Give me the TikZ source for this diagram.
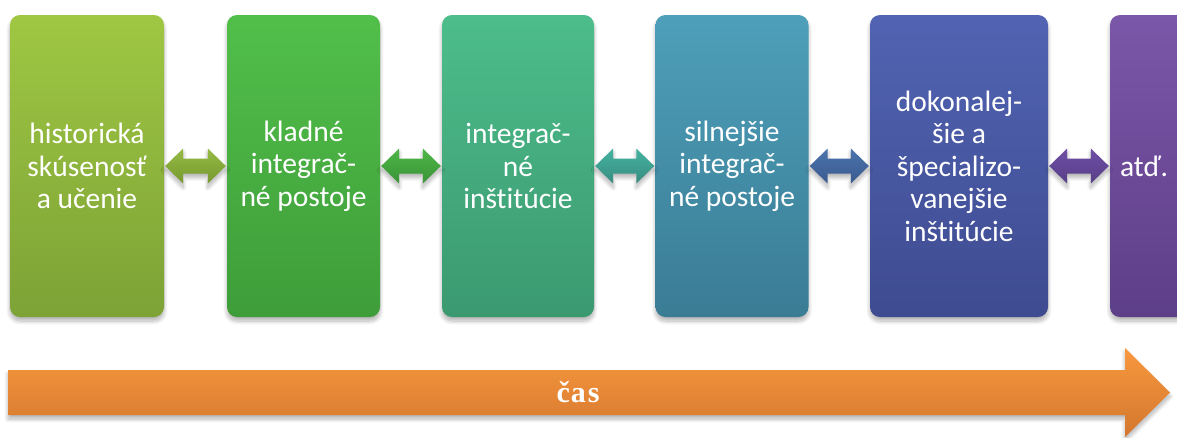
\documentclass[tikz,border=0pt]{standalone}
\usepackage{fontspec}
\setmainfont{Carlito}[Ligatures=NoCommon]
\newfontfamily\serifbold{Liberation Serif}
\usetikzlibrary{calc,shadows.blur}
\definecolor{bAt}{HTML}{9FC743}\definecolor{bAb}{HTML}{7DA236}
\definecolor{bBt}{HTML}{52BF4A}\definecolor{bBb}{HTML}{3E9D39}
\definecolor{bCt}{HTML}{4DBD8B}\definecolor{bCb}{HTML}{3B9970}
\definecolor{bDt}{HTML}{4E9FBA}\definecolor{bDb}{HTML}{3A7C94}
\definecolor{bEt}{HTML}{5163B2}\definecolor{bEb}{HTML}{3E4B90}
\definecolor{bFt}{HTML}{7C57A9}\definecolor{bFb}{HTML}{5D3E88}
\definecolor{aAt}{HTML}{95BB44}\definecolor{aAb}{HTML}{77992F}
\definecolor{aBt}{HTML}{4DB648}\definecolor{aBb}{HTML}{3A9336}
\definecolor{aCt}{HTML}{45B3A0}\definecolor{aCb}{HTML}{378C80}
\definecolor{aDt}{HTML}{4B74AE}\definecolor{aDb}{HTML}{3A5A8E}
\definecolor{aEt}{HTML}{6E4FA6}\definecolor{aEb}{HTML}{583E88}
\definecolor{oT}{HTML}{F8983E}\definecolor{oB}{HTML}{D4772E}
\tikzset{
  softshadow/.style={blur shadow={shadow blur steps=8, shadow xshift=0pt, shadow yshift=-4pt, shadow opacity=30, shadow blur radius=4pt}},
  stagebox/.style 2 args={rounded corners=10pt, minimum height=302pt, inner sep=0pt,
    top color=#1, bottom color=#2, draw=none, softshadow,
    text=white, font=\fontsize{29.5}{32.5}\selectfont, align=center},
  lbl/.style={text=white, font=\fontsize{29.5}{32.5}\selectfont, inner sep=0pt},
}
\newcommand\dblarr[4]{%
  \path[top color=#3, bottom color=#4, softshadow]
    ($(#1.east)+(1,0)$) -- ++(18,-17.5) -- ++(0,10) -- ($(#2.west)+(-19,-7.5)$) -- ++(0,-10)
    -- ($(#2.west)+(-1,0)$) -- ++(-18,17.5) -- ++(0,-10) -- ($(#1.east)+(19,7.5)$) -- ++(0,10) -- cycle;}
\begin{document}
\begin{tikzpicture}[x=1pt,y=-1pt]
\useasboundingbox (0,0) rectangle (1177,437);
\clip (0,0) rectangle (1177,437);
\node[stagebox={bAt}{bAb}, minimum width=154pt] (b1) at (87,166) {historická\\skúsenosť\\a učenie};
\node[stagebox={bBt}{bBb}, minimum width=153pt] (b2) at (303.5,166) {kladné\\integrač-\\né postoje};
\node[stagebox={bCt}{bCb}, minimum width=152pt] (b3) at (518,166) {integrač-\\né\\inštitúcie};
\node[stagebox={bDt}{bDb}, minimum width=153pt] (b4) at (732,166) {silnejšie\\integrač-\\né postoje};
\node[stagebox={bEt}{bEb}, minimum width=178pt] (b5) at (959,166) {dokonalej-\\šie a\\špecializo-\\vanejšie\\inštitúcie};
\node[stagebox={bFt}{bFb}, minimum width=155pt] (b6) at (1187.5,166) {};
\node[lbl, anchor=west] (t6) at ([xshift=10pt]b6.west) {atď.};
\dblarr{b1}{b2}{aAt}{aAb}
\dblarr{b2}{b3}{aBt}{aBb}
\dblarr{b3}{b4}{aCt}{aCb}
\dblarr{b4}{b5}{aDt}{aDb}
\dblarr{b5}{b6}{aEt}{aEb}
\coordinate (ts) at (8,392.5);
\coordinate (te) at (1170,392.5);
\path[top color=oT, bottom color=oB, softshadow]
  ($(ts)+(0,-22.5)$) -- ($(te)+(-45,-22.5)$) -- ($(te)+(-45,-44.5)$) -- (te)
  -- ($(te)+(-45,44.5)$) -- ($(te)+(-45,22.5)$) -- ($(ts)+(0,22.5)$) -- cycle;
\node[text=white, font=\serifbold\bfseries\fontsize{30}{34}\selectfont, inner sep=0pt] (cas) at (578,392) {č\kern1pt a\kern2pt s};
\end{tikzpicture}
\end{document}
